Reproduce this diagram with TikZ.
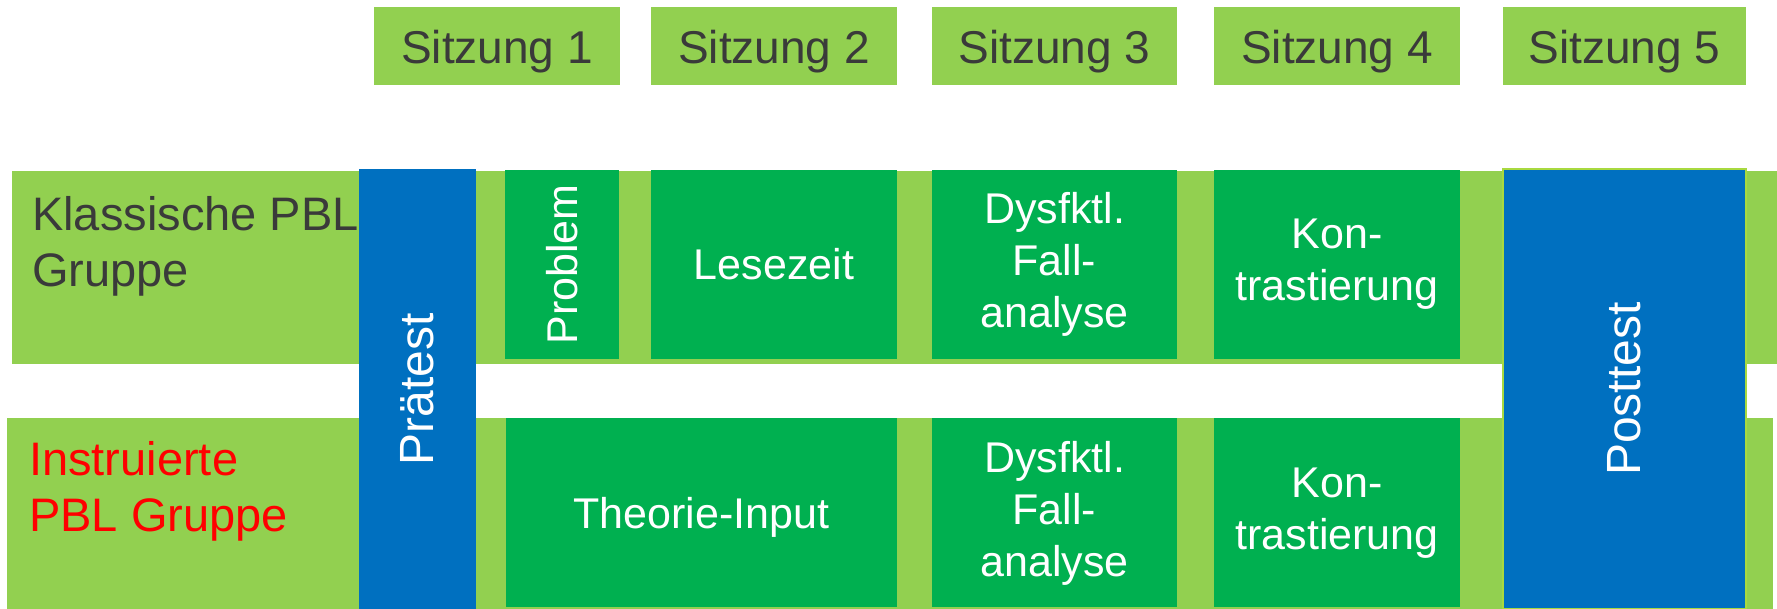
\documentclass[tikz,border=0pt]{standalone}
\usepackage{fontspec}
\setmainfont{Liberation Sans}
\usetikzlibrary{positioning}
\definecolor{hellgruen}{HTML}{92D050}
\definecolor{gruen}{HTML}{00B050}
\definecolor{blau}{HTML}{0070C0}
\definecolor{schrift}{HTML}{3A3A3A}
\tikzset{
band/.style={fill=hellgruen, inner sep=0pt},
sitz/.style={fill=hellgruen, text=schrift, inner sep=0pt, text depth=0pt, minimum width=246pt, minimum height=78pt, font=\fontsize{46}{56}\selectfont},
box/.style={fill=gruen, text=white, align=center, inner sep=0pt, minimum height=189pt, font=\fontsize{43}{52}\selectfont},
test/.style={fill=blau, text=white, inner sep=0pt, rotate=90, minimum width=440pt, font=\fontsize{48}{56}\selectfont},
gruppe/.style={anchor=north west, align=left, inner sep=0pt, font=\fontsize{47}{56}\selectfont},
}
\begin{document}
\begin{tikzpicture}[x=1pt,y=-1pt]
\useasboundingbox (0,0) rectangle (1777,609);
\node[sitz] (s1) at (497,46.5) {Sitzung 1};
\node[sitz] (s2) at (774,46.5) {Sitzung 2};
\node[sitz, minimum width=245pt] (s3) at (1054.5,46.5) {Sitzung 3};
\node[sitz] (s4) at (1337,46.5) {Sitzung 4};
\node[sitz, minimum width=243pt] (s5) at (1624.5,46.5) {Sitzung 5};
\node[band, minimum width=1765pt, minimum height=193pt] (klass) at (894.5,267.5) {};
\node[band, minimum width=1766pt, minimum height=191pt] (instr) at (890,513.5) {};
\node[gruppe, text=schrift] (kl) at (32,196) {Klassische PBL\\Gruppe};
\node[gruppe, text=red] (in) at (29,441) {Instruierte\\PBL Gruppe};
\node[test, minimum height=117pt] (prae) at (417.5,389) {Prätest};
\node[test, minimum height=243pt, draw=hellgruen!80!yellow, line width=1.5pt] (post) at (1624.5,389) {Posttest};
\node[box, rotate=90, minimum width=189pt, minimum height=114pt] (prob) at (562,264.5) {Problem};
\node[box, minimum width=246pt] (lese) at (774,264.5) {Lesezeit};
\node[box, minimum width=245pt] (dys1) at (1054.5,264.5) {Dysfktl.\\Fall-\\analyse};
\node[box, minimum width=246pt] (kon1) at (1337,264.5) {Kon-\\trastierung};
\node[box, text depth=0pt, minimum width=391pt] (theo) at (701.5,512.5) {Theorie-Input};
\node[box, minimum width=245pt, below=59pt of dys1] (dys2) {Dysfktl.\\Fall-\\analyse};
\node[box, minimum width=246pt, below=59pt of kon1] (kon2) {Kon-\\trastierung};
\end{tikzpicture}
\end{document}
